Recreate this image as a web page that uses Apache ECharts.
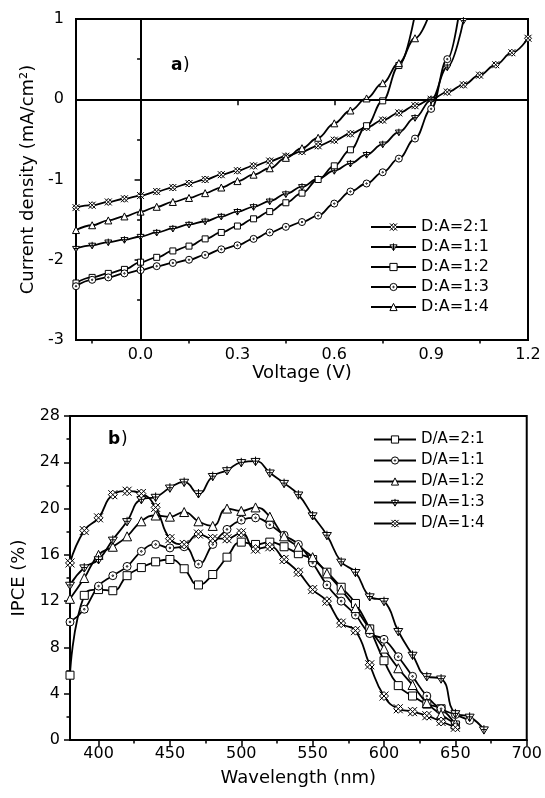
<!DOCTYPE html>
<html>
<head>
<meta charset="utf-8">
<script src="https://cdn.jsdelivr.net/npm/echarts@6/dist/echarts.min.js"></script>
<style>
  html, body { margin: 0; padding: 0; background: #fff; }
  #chart { width: 545px; height: 798px; }
</style>
</head>
<body>
<div id="chart"></div>
<script>
// ---- panel a: J-V curves ----
const voltage = [-0.2, -0.15, -0.1, -0.05, 0, 0.05, 0.1, 0.15, 0.2, 0.25, 0.3, 0.35, 0.4, 0.45,
  0.5, 0.55, 0.6, 0.65, 0.7, 0.75, 0.8, 0.85, 0.9, 0.95, 1.0, 1.05, 1.1, 1.15, 1.2];
const jDA21 = [-1.35, -1.32, -1.28, -1.24, -1.20, -1.15, -1.10, -1.05, -1.00, -0.94, -0.89, -0.83, -0.77, -0.71,
  -0.65, -0.58, -0.51, -0.43, -0.35, -0.26, -0.17, -0.08, 0.00, 0.09, 0.18, 0.30, 0.43, 0.58, 0.76];
const jDA11 = [-1.86, -1.82, -1.78, -1.75, -1.71, -1.66, -1.61, -1.56, -1.52, -1.46, -1.40, -1.34, -1.27, -1.18,
  -1.09, -0.99, -0.89, -0.80, -0.69, -0.56, -0.41, -0.23, -0.01, 0.40, 0.98];
const jDA12 = [-2.29, -2.22, -2.17, -2.12, -2.03, -1.97, -1.89, -1.83, -1.74, -1.66, -1.58, -1.49, -1.40, -1.29,
  -1.17, -1.00, -0.83, -0.63, -0.33, -0.02, 0.42, 1.06];
const jDA13 = [-2.33, -2.25, -2.22, -2.17, -2.13, -2.08, -2.04, -2.00, -1.94, -1.87, -1.82, -1.74, -1.66, -1.59,
  -1.53, -1.45, -1.30, -1.15, -1.05, -0.91, -0.74, -0.49, -0.12, 0.50, 1.45];
const jDA14 = [-1.63, -1.57, -1.51, -1.46, -1.40, -1.34, -1.28, -1.23, -1.17, -1.10, -1.02, -0.94, -0.86, -0.73,
  -0.61, -0.48, -0.30, -0.14, 0.01, 0.20, 0.45, 0.76, 1.12];
const vMajor = [0, 0.3, 0.6, 0.9, 1.2];
const vMinor = [-0.15, 0.15, 0.45, 0.75, 1.05];

// ---- panel b: IPCE spectra ----
const wavelength = [380, 390, 400, 410, 420, 430, 440, 450, 460, 470, 480, 490, 500, 510, 520,
  530, 540, 550, 560, 570, 580, 590, 600, 610, 620, 630, 640, 650, 660, 670];
const ipce21 = [5.6, 12.5, 13.0, 12.9, 14.2, 14.9, 15.4, 15.6, 14.8, 13.4, 14.3, 15.8, 17.1, 16.9, 17.1,
  16.7, 16.1, 15.6, 14.5, 13.2, 11.8, 9.6, 6.85, 4.7, 3.8, 3.1, 2.7, 1.3, null, null];
const ipce11 = [10.2, 11.3, 13.3, 14.2, 15.0, 16.3, 16.9, 16.6, 16.7, 15.2, 16.9, 18.2, 19.0, 19.2, 18.6,
  17.7, 16.9, 15.3, 13.4, 12.0, 10.8, 9.2, 8.7, 7.2, 5.5, 3.8, 2.7, 2.2, 1.7, null];
const ipce12 = [12.2, 14.0, 16.0, 16.7, 17.6, 18.9, 19.4, 19.3, 19.7, 18.9, 18.5, 20.0, 19.8, 20.1, 19.3,
  17.6, 16.7, 15.8, 14.4, 13.0, 11.4, 9.6, 7.9, 6.2, 4.75, 3.2, 2.2, 1.4, null, null];
const ipce13 = [13.4, 14.9, 15.6, 17.3, 18.9, 20.8, 21.0, 21.8, 22.3, 21.3, 22.8, 23.3, 24.0, 24.1, 23.1,
  22.2, 21.2, 19.4, 17.7, 15.4, 14.5, 12.4, 12.0, 9.4, 7.35, 5.5, 5.3, 2.3, 2.0, 0.9];
const ipce14 = [15.3, 18.1, 19.2, 21.2, 21.5, 21.3, 20.1, 17.4, 16.9, 17.8, 17.4, 17.4, 17.9, 16.5, 16.7,
  15.6, 14.5, 13.0, 12.0, 10.1, 9.45, 6.5, 3.8, 2.7, 2.45, 2.1, 1.6, 1.1, null, null];
const wMajor = [400, 450, 500, 550, 600, 650, 700];
const wMinor = [425, 475, 525, 575, 625, 675];

// marker shapes
const SYM_CROSS = 'path://M0,0L10,10M10,0L0,10M5,0L10,5L5,10L0,5Z';
const SYM_DOWNPLUS = 'path://M0,2L10,2L5,10ZM5,0L5,10M2,5L8,5';
const SYM_DOTCIRCLE = 'path://M10,5A5,5,0,1,1,0,5A5,5,0,1,1,10,5ZM6,5A1,1,0,1,1,4,5A1,1,0,1,1,6,5Z';

const FONT = 'DejaVu Sans';

function pairs(xs, ys) {
  const out = [];
  for (let i = 0; i < ys.length; i++) out.push([xs[i], ys[i]]);
  return out;
}

function curve(name, data, symbol, size, xi, yi, smoothOpt) {
  return {
    name: name,
    type: 'line',
    xAxisIndex: xi,
    yAxisIndex: yi,
    data: data,
    symbol: symbol,
    symbolSize: size,
    smooth: smoothOpt,
    showAllSymbol: true,
    lineStyle: { color: '#000', width: 1.8 },
    itemStyle: { color: '#fff', borderColor: '#000', borderWidth: 1 },
    emphasis: { disabled: true },
    animation: false
  };
}

const chart = echarts.init(document.getElementById('chart'));

const axisCommon = {
  axisLine: { show: true, lineStyle: { color: '#000', width: 2 } },
  axisTick: { show: true, length: 6, lineStyle: { color: '#000', width: 1.5 } },
  splitLine: { show: false },
  axisLabel: { color: '#000', fontSize: 16, fontFamily: FONT },
  nameTextStyle: { color: '#000', fontSize: 18, fontFamily: FONT },
  nameLocation: 'middle'
};

function minorAxis(grid, min, max, values) {
  return {
    type: 'value', gridIndex: grid, min: min, max: max, position: 'bottom',
    axisLine: { show: false },
    axisLabel: { show: false },
    splitLine: { show: false },
    axisTick: { show: true, length: 3.5, customValues: values, lineStyle: { color: '#000', width: 1.5 } }
  };
}

const seriesA = [
  curve('D:A=2:1', pairs(voltage, jDA21), SYM_CROSS, 7, 0, 0, 0.4),
  curve('D:A=1:1', pairs(voltage, jDA11), SYM_DOWNPLUS, 7, 0, 0, 0.4),
  curve('D:A=1:2', pairs(voltage, jDA12), 'rect', 6, 0, 0, 0.4),
  curve('D:A=1:3', pairs(voltage, jDA13), SYM_DOTCIRCLE, 7, 0, 0, 0.4),
  curve('D:A=1:4', pairs(voltage, jDA14), 'triangle', 7, 0, 0, 0.4)
];
seriesA.forEach(s => { s.smoothMonotone = 'x'; });
seriesA[0].markLine = {
  silent: true,
  symbol: 'none',
  label: { show: false },
  lineStyle: { color: '#000', width: 1, type: 'solid' },
  data: [{ xAxis: 0 }, { yAxis: 0 }],
  animation: false
};

const seriesB = [
  curve('D/A=2:1', pairs(wavelength, ipce21), 'rect', 8, 2, 1, 0.5),
  curve('D/A=1:1', pairs(wavelength, ipce11), SYM_DOTCIRCLE, 8, 2, 1, 0.5),
  curve('D/A=1:2', pairs(wavelength, ipce12), 'triangle', 9, 2, 1, 0.5),
  curve('D/A=1:3', pairs(wavelength, ipce13), SYM_DOWNPLUS, 9, 2, 1, 0.5),
  curve('D/A=1:4', pairs(wavelength, ipce14), SYM_CROSS, 9, 2, 1, 0.5)
];

const legendItem = { color: '#fff', borderColor: '#000', borderWidth: 1 };

chart.setOption({
  backgroundColor: '#fff',
  animation: false,
  grid: [
    { left: 76, right: 17, top: 19, height: 321, show: true, borderColor: '#000', borderWidth: 2 },
    { left: 70, right: 17, top: 416, height: 324, show: true, borderColor: '#000', borderWidth: 2 }
  ],
  xAxis: [
    Object.assign({}, axisCommon, {
      type: 'value', gridIndex: 0, min: -0.2, max: 1.2, name: 'Voltage (V)', nameGap: 24,
      axisTick: Object.assign({}, axisCommon.axisTick, { customValues: vMajor }),
      axisLabel: Object.assign({}, axisCommon.axisLabel, { customValues: vMajor, margin: 7, formatter: v => v.toFixed(1) })
    }),
    minorAxis(0, -0.2, 1.2, vMinor),
    Object.assign({}, axisCommon, {
      type: 'value', gridIndex: 1, min: 380, max: 700, name: 'Wavelength (nm)', nameGap: 29,
      axisTick: Object.assign({}, axisCommon.axisTick, { customValues: wMajor }),
      axisLabel: Object.assign({}, axisCommon.axisLabel, { customValues: wMajor, margin: 6 })
    }),
    minorAxis(1, 380, 700, wMinor)
  ],
  yAxis: [
    Object.assign({}, axisCommon, {
      type: 'value', gridIndex: 0, min: -3, max: 1, interval: 1,
      name: 'Current density (mA/cm\u00b2)', nameGap: 38,
      minorTick: { show: true, splitNumber: 2, length: 3.5, lineStyle: { color: '#000', width: 1.5 } },
      axisLabel: Object.assign({}, axisCommon.axisLabel, { margin: 12 })
    }),
    Object.assign({}, axisCommon, {
      type: 'value', gridIndex: 1, min: 0, max: 28, interval: 4,
      name: 'IPCE (%)', nameGap: 40,
      minorTick: { show: true, splitNumber: 2, length: 3.5, lineStyle: { color: '#000', width: 1.5 } },
      axisLabel: Object.assign({}, axisCommon.axisLabel, { margin: 10 })
    })
  ],
  legend: [
    {
      orient: 'vertical', left: 365, top: 214, itemWidth: 45, itemHeight: 9, itemGap: 4,
      selectedMode: false,
      itemStyle: legendItem,
      lineStyle: { color: '#000', width: 2 },
      textStyle: { color: '#000', fontSize: 16, fontFamily: FONT },
      data: seriesA.map(s => s.name)
    },
    {
      orient: 'vertical', left: 368, top: 427, itemWidth: 42, itemHeight: 9, itemGap: 6,
      selectedMode: false,
      itemStyle: legendItem,
      lineStyle: { color: '#000', width: 2 },
      textStyle: { color: '#000', fontSize: 15, fontFamily: FONT },
      data: seriesB.map(s => s.name)
    }
  ],
  graphic: [
    { type: 'text', left: 171, top: 57, style: { text: 'a', font: 'bold 17px "DejaVu Sans"', fill: '#000' } },
    { type: 'text', left: 183, top: 57, style: { text: ')', font: '17px "DejaVu Sans"', fill: '#000' } },
    { type: 'text', left: 108, top: 431, style: { text: 'b', font: 'bold 17px "DejaVu Sans"', fill: '#000' } },
    { type: 'text', left: 121, top: 431, style: { text: ')', font: '17px "DejaVu Sans"', fill: '#000' } }
  ],
  series: seriesA.concat(seriesB)
});
</script>
</body>
</html>
